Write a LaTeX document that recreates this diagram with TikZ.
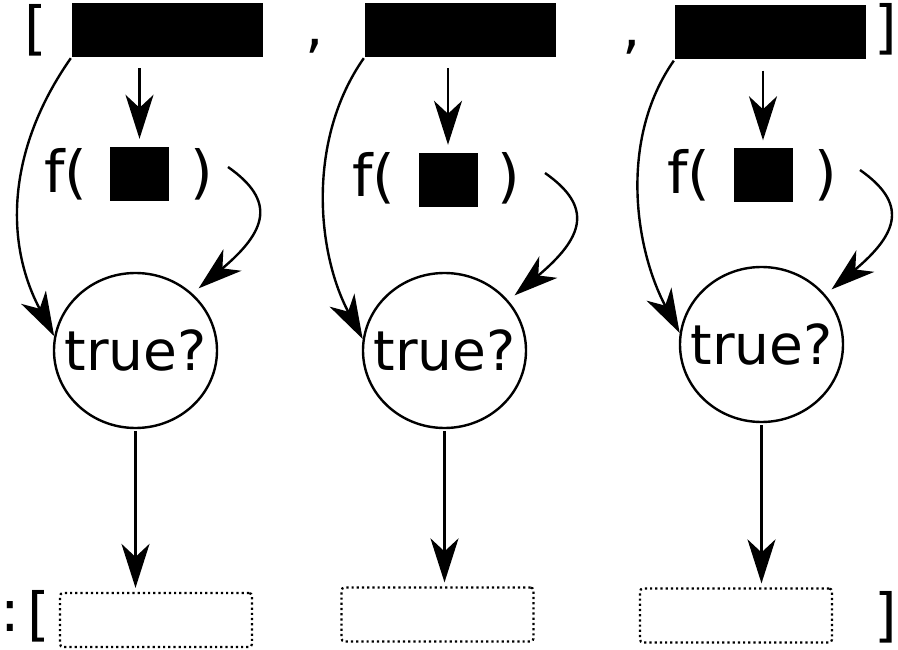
\documentclass[tikz,border=0pt]{standalone}
\usepackage{fontspec}
\setmainfont{DejaVu Sans}
\usetikzlibrary{arrows.meta,shapes.geometric,positioning}

\begin{document}
\begin{tikzpicture}[x=1pt,y=1pt,line width=2.4pt,
	big/.style={inner sep=0pt,font=\fontsize{58}{60}\selectfont},
	elem/.style={fill=black,inner sep=0pt,minimum width=191pt,minimum height=54pt},
	arg/.style={fill=black,inner sep=0pt,minimum width=59pt,minimum height=54pt},
	test/.style={draw,ellipse,inner sep=-15pt,minimum width=163pt,minimum height=155pt,font=\fontsize{55}{57}\selectfont},
	slot/.style={draw,line width=2.2pt,dash pattern=on 2.2pt off 3pt,rounded corners=3pt,minimum width=192pt,minimum height=54pt},
	arr/.style={-{Stealth[length=44pt,width=28pt,inset=13pt]}},
	fromel/.style={arr,out=235,in=118},
	fromf/.style={arr,shorten >=8pt,out=-35,in=40,out looseness=1.15,in looseness=1.9}]
	
	\useasboundingbox (0,0) rectangle (898,649);
	
	% the list
	\node[big] (lb) at (36,619) {[};
	\node[elem] (in1) at (167.5,619) {};
	\node[big] (c1) at (315,603) {,};
	\node[elem] (in2) at (460.5,619) {};
	\node[big] (c2) at (632,602) {,};
	\node[elem] (in3) at (770.5,616.5) {};
	\node[big] (rb) at (886,620) {]};
	
	\node[big] (fa1) at (66,475) {f(};
	\node[arg] (arg1) at (139.5,475) {};
	\node[big] (fb1) at (201.5,475) {)};
	\node[big] (fa2) at (374,470.5) {f(};
	\node[arg] (arg2) at (448,469) {};
	\node[big] (fb2) at (509,470.5) {)};
	\node[big] (fa3) at (689,473.5) {f(};
	\node[arg] (arg3) at (763,473.5) {};
	\node[big] (fb3) at (825.5,473.5) {)};
	
	\node[test] (test1) at (135.5,298.5) {true?};
	\node[test] (test2) at (444.5,298.5) {true?};
	\node[test] (test3) at (761.5,304.5) {true?};
	
	% result
	\node[big] (col) at (10,32) {:};
	\node[big] (ob) at (38.5,33) {[};
	\node[slot] (out1) at (156,29) {};
	\node[slot] (out2) at (437.5,34.5) {};
	\node[slot] (out3) at (736,33.5) {};
	\node[big] (oe) at (886,32) {]};
	
	\coordinate (r1) at (228,482);
	\coordinate (r2) at (545,476);
	\coordinate (r3) at (860,479);
	
	\draw[arr,shorten <=10pt,shorten >=7pt] (arg1.north |- in1.south) -- (arg1.north);
	\draw[arr,shorten <=10pt,shorten >=7pt] (arg2.north |- in2.south) -- (arg2.north);
	\draw[arr,shorten <=10pt,shorten >=7pt] (arg3.north |- in3.south) -- (arg3.north);
	
	\draw[fromel] (in1.south west) to (test1.170);
	\draw[fromel,looseness=0.9] (in2.south west) to (test2.172);
	\draw[fromel,looseness=0.9] (in3.south west) to (test3.172);
	
	\draw[fromf] (r1) to (test1.45);
	\draw[fromf] (r2) to (test2.38);
	\draw[fromf] (r3) to (test3.38);
	
	\draw[arr,shorten <=2pt,shorten >=4pt] (test1.south) -- (test1.south |- out1.north);
	\draw[arr,shorten <=2pt,shorten >=4pt] (test2.south) -- (test2.south |- out2.north);
	\draw[arr,shorten <=2pt,shorten >=4pt] (test3.south) -- (test3.south |- out3.north);
	
\end{tikzpicture}
\end{document}
